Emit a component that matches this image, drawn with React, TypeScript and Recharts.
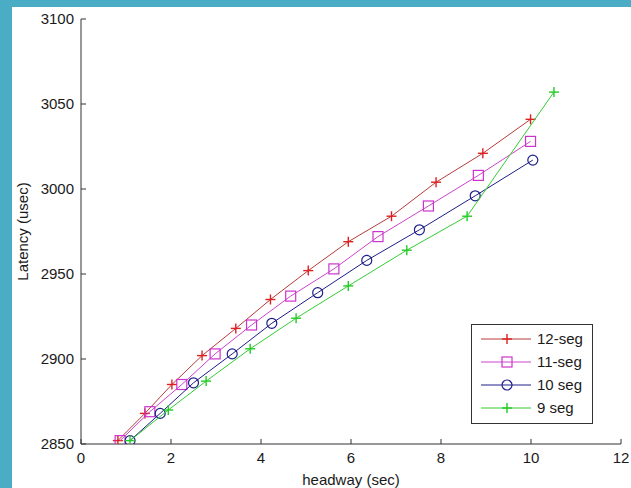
import React from 'react';
import { Legend, Scatter, ScatterChart, XAxis, YAxis } from 'recharts';

// headway (sec) / latency (usec)
const seg12X = [0.82, 1.42, 2.02, 2.69, 3.44, 4.21, 5.05, 5.94, 6.9, 7.89, 8.93, 9.99];
const seg12Y = [2852, 2868, 2885, 2902, 2918, 2935, 2952, 2969, 2984, 3004, 3021, 3041];

const seg11X = [0.87, 1.53, 2.24, 2.98, 3.79, 4.66, 5.62, 6.6, 7.72, 8.83, 9.99];
const seg11Y = [2852, 2869, 2885, 2903, 2920, 2937, 2953, 2972, 2990, 3008, 3028];

const seg10X = [1.09, 1.76, 2.5, 3.36, 4.24, 5.26, 6.35, 7.52, 8.76, 10.04];
const seg10Y = [2852, 2868, 2886, 2903, 2921, 2939, 2958, 2976, 2996, 3017];

const seg9X = [1.09, 1.94, 2.78, 3.76, 4.78, 5.94, 7.24, 8.58, 10.51];
const seg9Y = [2852, 2870, 2887, 2906, 2924, 2943, 2964, 2984, 3057];

const xTicks = [0, 2, 4, 6, 8, 10, 12];
const yTicks = [2850, 2900, 2950, 3000, 3050, 3100];

const toPoints = (xs: number[], ys: number[]) => xs.map((x, i) => ({ x, y: ys[i] }));

type MarkerKind = 'plus' | 'square' | 'circle';

const series = [
  { name: '12-seg', data: toPoints(seg12X, seg12Y), line: '#b83a3a', mark: '#dd2020', kind: 'plus' as MarkerKind },
  { name: '11-seg', data: toPoints(seg11X, seg11Y), line: '#cc44cc', mark: '#cc33cc', kind: 'square' as MarkerKind },
  { name: '10 seg', data: toPoints(seg10X, seg10Y), line: '#1e1e8a', mark: '#1e1e8a', kind: 'circle' as MarkerKind },
  { name: '9 seg', data: toPoints(seg9X, seg9Y), line: '#33cc33', mark: '#22cc22', kind: 'plus' as MarkerKind }
];

function Marker({ cx, cy, color, kind }: { cx: number; cy: number; color: string; kind: MarkerKind }) {
  if (kind === 'square') {
    return <rect x={cx - 5} y={cy - 5} width={10} height={10} fill="none" stroke={color} strokeWidth={1.2} />;
  }
  if (kind === 'circle') {
    return <circle cx={cx} cy={cy} r={5} fill="none" stroke={color} strokeWidth={1.2} />;
  }
  return (
    <g stroke={color} strokeWidth={1.4}>
      <line x1={cx - 5} y1={cy} x2={cx + 5} y2={cy} />
      <line x1={cx} y1={cy - 5} x2={cx} y2={cy + 5} />
    </g>
  );
}

function LegendBox() {
  return (
    <svg width={122} height={100} style={{ display: 'block' }}>
      <rect x={0.5} y={0.5} width={121} height={99} fill="#fff" stroke="#333" />
      {series.map((s, i) => {
        const y = 15 + i * 23;
        return (
          <g key={s.name}>
            <line x1={10} y1={y} x2={60} y2={y} stroke={s.line} strokeWidth={1} />
            <Marker cx={36} cy={y} color={s.mark} kind={s.kind} />
            <text x={66} y={y + 5} fontSize={15} fill="#1a1a1a">
              {s.name}
            </text>
          </g>
        );
      })}
    </svg>
  );
}

const tickStyle = { fontSize: 15, fill: '#1a1a1a' };

export default function App() {
  return (
    <div
      style={{
        position: 'absolute',
        left: 0,
        top: 0,
        width: 631,
        height: 488,
        background: '#fff',
        overflow: 'hidden',
        fontFamily: '"Liberation Sans", Arial, sans-serif'
      }}
    >
      <div style={{ position: 'absolute', left: 0, top: 0, width: 12, height: 488, background: '#4bacc6' }} />
      <div style={{ position: 'absolute', left: 0, top: 0, width: 631, height: 7, background: '#4bacc6' }} />
      <div style={{ position: 'absolute', left: 0, top: 0 }}>
        <ScatterChart width={631} height={488} margin={{ top: 19, right: 10, bottom: 0, left: 0 }}>
          <XAxis
            type="number"
            dataKey="x"
            domain={[0, 12]}
            ticks={xTicks}
            allowDataOverflow
            height={44}
            stroke="#333"
            tick={tickStyle}
            tickSize={-5}
            tickMargin={13}
            label={{ value: 'headway (sec)', position: 'insideBottom', offset: 3, fontSize: 15, fill: '#1a1a1a' }}
          />
          <YAxis
            type="number"
            dataKey="y"
            domain={[2850, 3100]}
            ticks={yTicks}
            allowDataOverflow
            width={81}
            stroke="#333"
            tick={tickStyle}
            tickSize={-5}
            tickMargin={12}
            label={(props: any) => {
              const vb = props.viewBox || {};
              const cy = (vb.y ?? 19) + (vb.height ?? 425) / 2;
              return (
                <text
                  x={22}
                  y={cy}
                  transform={`rotate(-90 22 ${cy})`}
                  textAnchor="middle"
                  dominantBaseline="central"
                  fontSize={15}
                  fill="#1a1a1a"
                >
                  Latency (usec)
                </text>
              );
            }}
          />
          <Legend
            layout="vertical"
            align="center"
            verticalAlign="middle"
            wrapperStyle={{ left: 471, top: 324, width: 122, height: 100 }}
            content={() => <LegendBox />}
          />
          {series.map((s) => (
            <Scatter
              key={s.name}
              name={s.name}
              data={s.data}
              isAnimationActive={false}
              line={{ stroke: s.line, strokeWidth: 1 }}
              lineJointType="linear"
              shape={(p: any) => <Marker cx={p.cx} cy={p.cy} color={s.mark} kind={s.kind} />}
            />
          ))}
        </ScatterChart>
      </div>
    </div>
  );
}
